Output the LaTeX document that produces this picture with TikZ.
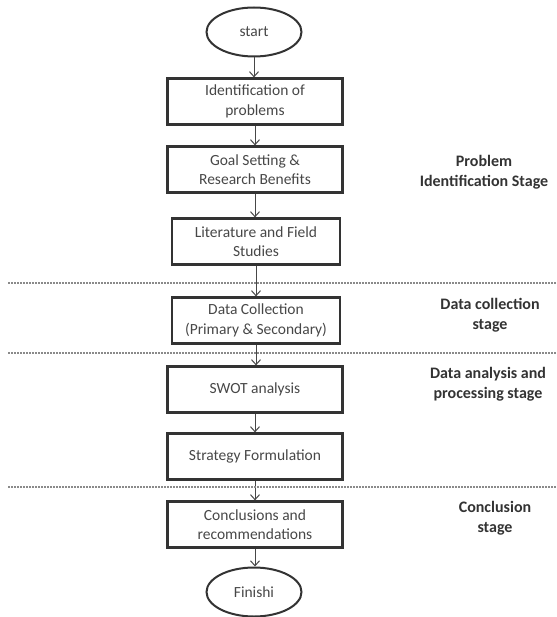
\documentclass[tikz,border=0pt]{standalone}
\usepackage{fontspec}
\setmainfont{Carlito}
\usetikzlibrary{shapes.geometric,arrows.meta}
\definecolor{boxline}{HTML}{333333}
\definecolor{txt}{HTML}{474747}
\definecolor{dash}{HTML}{8A8A8A}
\begin{document}
\begin{tikzpicture}[x=1pt,y=-1pt,
  every node/.style={font=\fontsize{15.5}{19.5}\selectfont, text=txt},
  term/.style={ellipse, draw=boxline, line width=2pt, minimum width=95pt, minimum height=49pt, inner sep=0pt},
  stepbox/.style={rectangle, draw=boxline, line width=2.2pt, minimum width=175pt, minimum height=46pt, align=center, inner sep=1pt},
  narrowbox/.style={stepbox, minimum width=168pt},
  arr/.style={draw=txt, line width=1pt, -{Straight Barb[length=5pt,width=9pt]}},
  sep/.style={draw=dash, line width=1.4pt, dash pattern=on 2pt off 1pt},
  stage/.style={font=\bfseries\fontsize{16}{20}\selectfont, align=center, text=black!80}]
\useasboundingbox (0,0) rectangle (556,617);
\node[term] (start) at (254,32) {start};
\node[stepbox] (b1) at (255,101.5) {Identification of\\problems};
\node[stepbox] (b2) at (255,169.5) {Goal Setting \&\\Research Benefits};
\node[narrowbox] (b3) at (256,241.5) {Literature and Field\\Studies};
\node[narrowbox] (b4) at (256,320.5) {Data Collection\\(Primary \& Secondary)};
\node[stepbox] (b5) at (255,389.5) {SWOT analysis};
\node[stepbox] (b6) at (255,456.5) {Strategy Formulation};
\node[stepbox] (b7) at (255,524.5) {Conclusions and\\recommendations};
\node[term] (finish) at (254,592) {Finishi};

\draw[arr] (start.south) -- (start.south |- b1.north);
\draw[arr] (b1.south) -- (b1.south |- b2.north);
\draw[arr] (b2.south) -- (b2.south |- b3.north);
\draw[arr] (b3.south) -- (b3.south |- b4.north);
\draw[arr] (b4.south) -- (b4.south |- b5.north);
\draw[arr] (b5.south) -- (b5.south |- b6.north);
\draw[arr] (b6.south) -- (b6.south |- b7.north);
\draw[arr] (b7.south) -- (b7.south |- finish.north);

\coordinate (l1a) at (8,283); \coordinate (l1b) at (556,283);
\coordinate (l2a) at (8,353); \coordinate (l2b) at (556,353);
\coordinate (l3a) at (8,487); \coordinate (l3b) at (556,487);
\draw[sep] (l1a) -- (l1b);
\draw[sep] (l2a) -- (l2b);
\draw[sep] (l3a) -- (l3b);

\node[stage] (s1) at (484,172) {Problem\\Identification Stage};
\node[stage] (s2) at (490,315) {Data collection\\stage};
\node[stage] (s3) at (488,384) {Data analysis and\\processing stage};
\node[stage] (s4) at (495,518) {Conclusion\\stage};
\end{tikzpicture}
\end{document}
